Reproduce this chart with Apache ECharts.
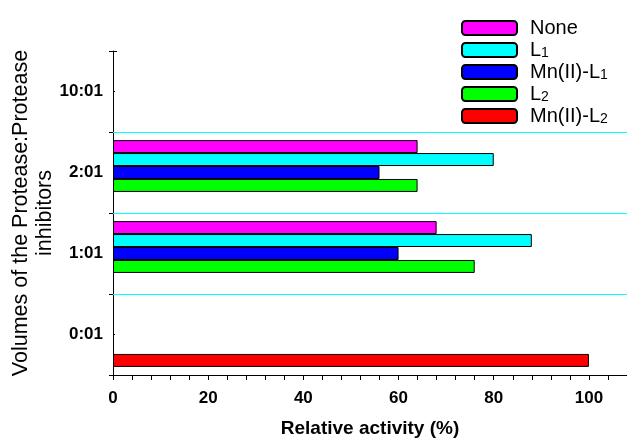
<!DOCTYPE html>
<html><head><meta charset="utf-8">
<script src="https://cdn.jsdelivr.net/npm/echarts@6/dist/echarts.min.js"></script>
<style>html,body{margin:0;padding:0;background:#fff}#c{width:627px;height:440px}</style>
</head><body><div id="c"></div>
<script>
var categories = ['0:01', '1:01', '2:01', '10:01'];
var seriesNames = ['None', 'L1', 'Mn(II)-L1', 'L2', 'Mn(II)-L2'];
var noneVals = ['-', 68, 64, '-'];
var l1Vals = ['-', 88, 80, '-'];
var mnL1Vals = ['-', 60, 56, '-'];
var l2Vals = ['-', 76, 64, '-'];
var mnL2Vals = [100, '-', '-', '-'];
var xTicks = [0, 20, 40, 60, 80, 100];
var boundaryLines = [1, 2, 3];

var colors = {'None':'#ff00ff','L1':'#00ffff','Mn(II)-L1':'#0000ff','L2':'#00ff00','Mn(II)-L2':'#ff0000'};
var valuesByName = {'None':noneVals,'L1':l1Vals,'Mn(II)-L1':mnL1Vals,'L2':l2Vals,'Mn(II)-L2':mnL2Vals};
var FONT = 'Liberation Sans, Arial, sans-serif';

var series = seriesNames.map(function (n) {
  return {
    name: n, type: 'bar', data: valuesByName[n], yAxisIndex: 0,
    barGap: '0%', barCategoryGap: '20%',
    itemStyle: {color: colors[n], borderColor: '#000', borderWidth: 1},
    emphasis: {disabled: true}
  };
});
series.push({
  name: 'boundaries', type: 'line', data: [], yAxisIndex: 1, z: 10,
  markLine: {
    silent: true, symbol: 'none', label: {show: false},
    lineStyle: {color: '#00ffff', width: 1, type: 'solid', opacity: 1},
    emphasis: {disabled: true},
    data: boundaryLines.map(function (v) { return {yAxis: v}; })
  }
});

function legendFmt(name) {
  var m = name.match(/^(.*L)([12])$/);
  if (m) return '{n|' + m[1] + '}{s|' + m[2] + '}';
  return '{n|' + name + '}{s| }';
}

var chart = echarts.init(document.getElementById('c'), null, {renderer: 'canvas'});
chart.setOption({
  animation: false,
  backgroundColor: '#fff',
  grid: {left: 113, right: 0, top: 51, height: 324, containLabel: false, outerBoundsMode: 'none'},
  legend: {
    orient: 'vertical', left: 461, top: 11, padding: 0,
    data: seriesNames,
    itemWidth: 55, itemHeight: 14, itemGap: -5,
    formatter: legendFmt,
    textStyle: {
      fontFamily: FONT, color: '#000', padding: [0, 0, 0, 8],
      rich: {
        n: {fontFamily: FONT, fontSize: 20, color: '#000', lineHeight: 20, verticalAlign: 'top'},
        s: {fontFamily: FONT, fontSize: 14, color: '#000', lineHeight: 14, verticalAlign: 'bottom', padding: [13, 0, 0, 0]}
      }
    }
  },
  xAxis: {
    type: 'value', min: 0, max: 108, interval: 20,
    name: 'Relative activity (%)', nameLocation: 'middle', nameGap: 44, nameMoveOverlap: false,
    nameTextStyle: {fontFamily: FONT, fontSize: 19, fontWeight: 'bold', color: '#000', verticalAlign: 'top'},
    axisLine: {show: true, onZero: false, lineStyle: {color: '#000', width: 1}},
    axisTick: {show: true, inside: false, length: 5, lineStyle: {color: '#000'}},
    minorTick: {show: true, splitNumber: 5, length: 5, lineStyle: {color: '#000'}},
    axisLabel: {fontFamily: FONT, fontSize: 17, fontWeight: 'bold', color: '#000', margin: 15,
      formatter: function (v) { return xTicks.indexOf(v) >= 0 ? String(v) : ''; }},
    splitLine: {show: false}
  },
  yAxis: [{
    type: 'category', data: categories,
    name: 'Volumes of the Protease:Protease\ninhibitors', nameLocation: 'middle', nameGap: 56, nameMoveOverlap: false,
    nameTextStyle: {fontFamily: FONT, fontSize: 21.5, color: '#000', lineHeight: 24},
    axisLine: {show: true, lineStyle: {color: '#000', width: 1}},
    axisTick: {show: true, inside: false, length: 4, lineStyle: {color: '#000'}},
    axisLabel: {fontFamily: FONT, fontSize: 17, fontWeight: 'bold', color: '#000', margin: 10},
    splitLine: {show: false}
  }, {
    type: 'value', min: 0, max: 4, interval: 1, position: 'left', offset: 0,
    axisLine: {show: false},
    axisLabel: {show: false},
    axisTick: {show: true, inside: true, length: 4, lineStyle: {color: '#000'}},
    minorTick: {show: true, splitNumber: 2, length: 2, lineStyle: {color: '#000'}},
    splitLine: {show: false}
  }],
  series: series
});
</script></body></html>
